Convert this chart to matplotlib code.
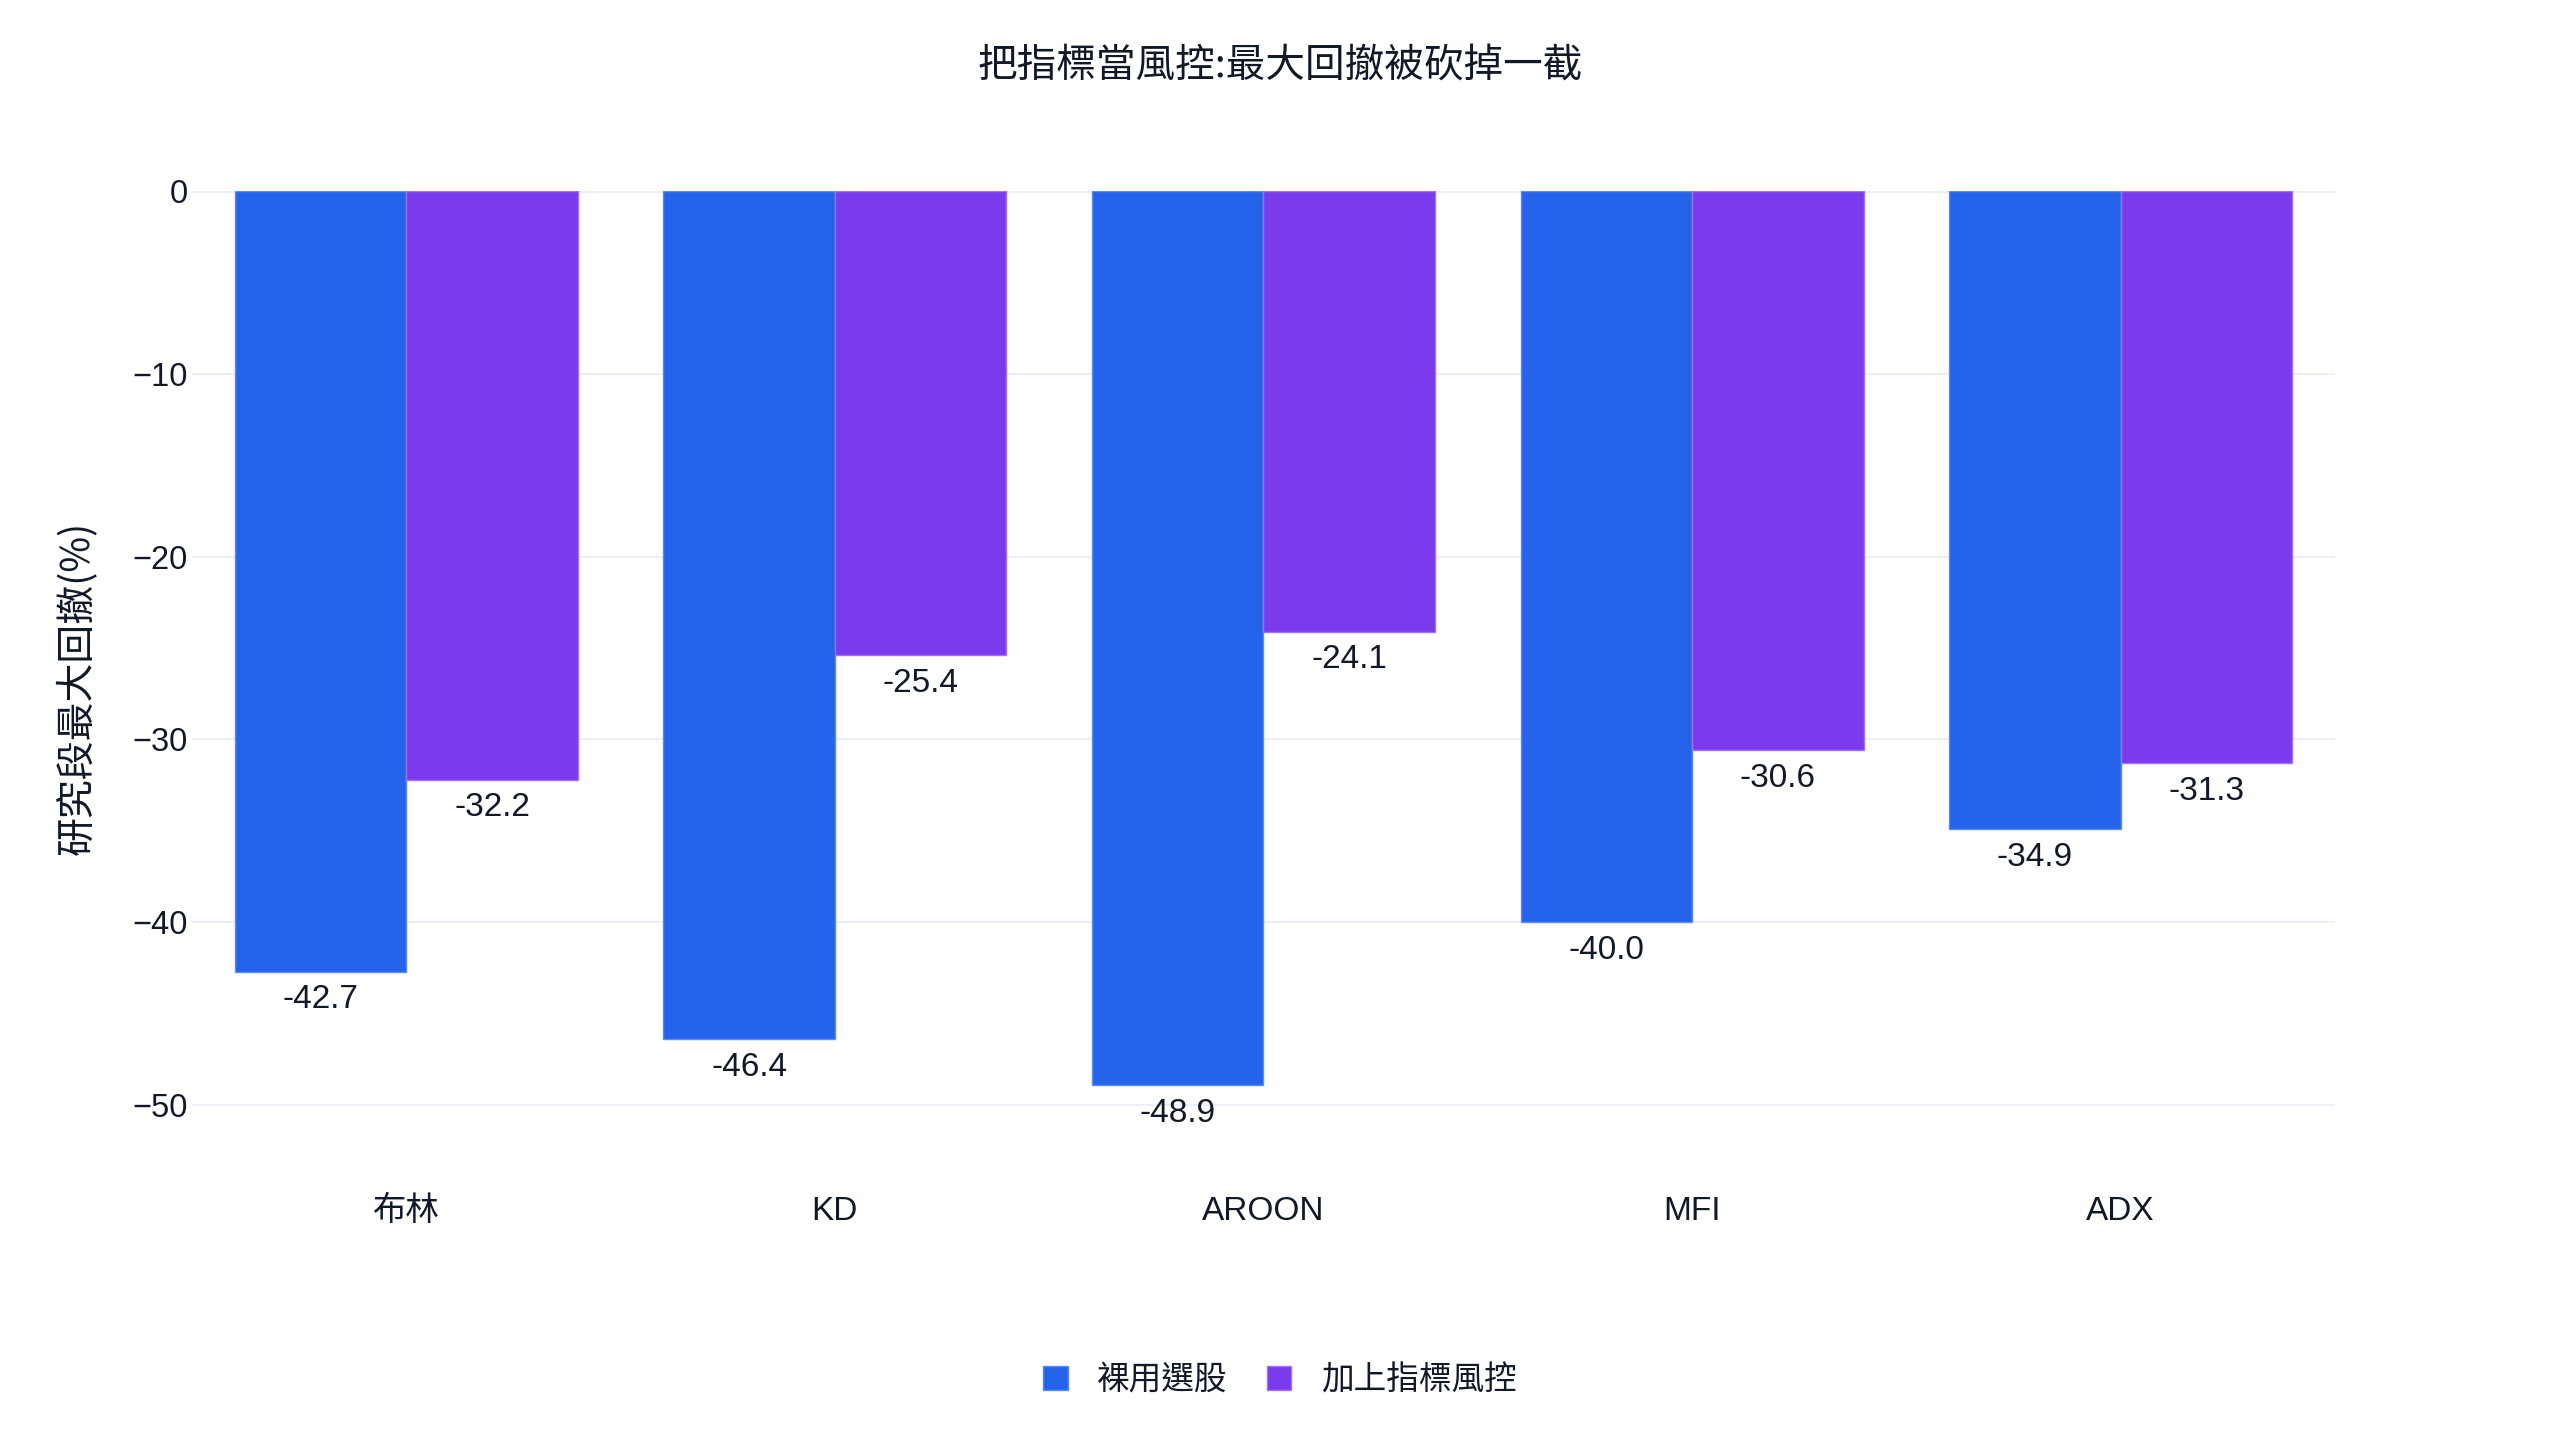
import matplotlib
matplotlib.use("Agg")
import matplotlib.pyplot as plt
import numpy as np
from matplotlib.patches import Patch

categories = ["布林", "KD", "AROON", "MFI", "ADX"]
series_names = ["裸用選股", "加上指標風控"]
raw_values = [-42.7, -46.4, -48.9, -40.0, -34.9]
risk_values = [-32.2, -25.4, -24.1, -30.6, -31.3]
yticks = [0, -10, -20, -30, -40, -50]
title = "把指標當風控:最大回撤被砍掉一截"
ylabel = "研究段最大回撤(%)"

colors = ["#2563EB", "#7C3AED"]
edge_colors = ["#5B8CF5", "#A072F5"]
text_color = "#111827"
grid_color = "#EBF0F8"

fam = ["Liberation Sans", "Noto Sans CJK TC", "DejaVu Sans"]
cjk = ["Noto Sans CJK TC", "Liberation Sans", "DejaVu Sans"]
plt.rcParams["font.family"] = fam

fig = plt.figure(figsize=(25.6, 14.4), dpi=100)
ax = fig.add_axes([0.075, 1 - 1160 / 1440, 0.9121 - 0.075, (1160 - 191) / 1440])

x = np.arange(len(categories))
w = 0.4
for i, (vals, name) in enumerate([(raw_values, series_names[0]), (risk_values, series_names[1])]):
    xs = x + (i - 0.5) * w
    ax.bar(xs, vals, width=w, color=colors[i], edgecolor=edge_colors[i],
           linewidth=1.0, label=name, zorder=3)
    for xi, v in zip(xs, vals):
        ax.annotate(f"{v:.1f}", xy=(xi, v), xytext=(0, -9), textcoords="offset points",
                    ha="center", va="top", fontsize=24, color=text_color, family=fam)

ax.set_xlim(-0.5, len(categories) - 0.5)
ax.set_ylim(-53, 0)
ax.set_yticks(yticks)
ax.set_yticklabels([("\u2212" + str(-t)) if t < 0 else str(t) for t in yticks],
                   fontsize=23.5, color=text_color)
ax.set_xticks(x)
ax.set_xticklabels(categories, fontsize=24, color=text_color, family=fam)
ax.tick_params(axis="x", length=0, pad=26)
ax.tick_params(axis="y", length=0, pad=3)
for s in ax.spines.values():
    s.set_visible(False)
ax.grid(axis="y", color=grid_color, linewidth=1.5, zorder=0)
ax.axhline(0, color=grid_color, linewidth=3, zorder=1)
ax.set_axisbelow(True)

fig.text(77 / 2560, 1 - 688 / 1440, ylabel, rotation=90, ha="center", va="center",
         fontsize=28, color=text_color, family=cjk)

fig.text(0.5, 1 - 66 / 1440, title, ha="center", va="center", fontsize=28.5,
         color=text_color, family=cjk)

handles = [Patch(facecolor=colors[i], edgecolor=edge_colors[i], linewidth=1.0) for i in range(2)]
leg = fig.legend(handles, series_names, loc="center", bbox_to_anchor=(0.5, 1 - 1380 / 1440),
                 ncol=2, frameon=False, handlelength=0.75, handleheight=0.75,
                 handletextpad=0.9, columnspacing=1.2, prop={"family": cjk, "size": 23.5})
for t in leg.get_texts():
    t.set_color(text_color)

fig.savefig("out.png", dpi=100, facecolor="white")
